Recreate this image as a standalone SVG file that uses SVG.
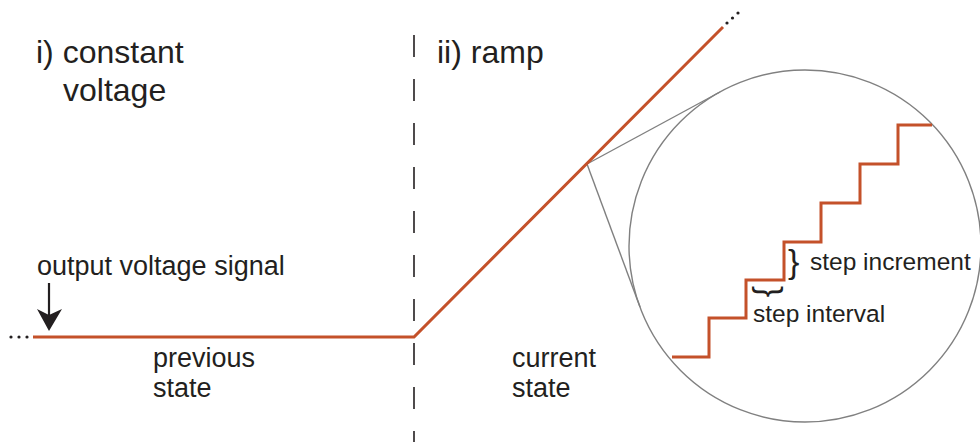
<svg xmlns="http://www.w3.org/2000/svg" width="980" height="442" viewBox="0 0 980 442">
<defs>
<style>
.sig{fill:none;stroke:#c4512a;stroke-width:3;stroke-linejoin:miter}
.zoom{fill:none;stroke:#808080;stroke-width:1.4}
.t{font-family:"Liberation Sans",Arial,sans-serif;fill:#231f20}
.title{font-size:32px}
.lbl{font-size:27px}
.sm{font-size:24.5px}
.dot{fill:#231f20}
</style>
</defs>
<rect width="980" height="442" fill="#fff"/>
<g id="divider">
<line x1="414" y1="35" x2="414" y2="442" stroke="#231f20" stroke-width="1.6" stroke-dasharray="22 22"/>
</g>
<g id="titles">
<text class="t title" x="36" y="63">i) constant</text>
<text class="t title" x="63" y="101">voltage</text>
<text class="t title" x="437" y="63">ii) ramp</text>
</g>
<g id="connectors">
<line class="zoom" x1="587" y1="164" x2="720" y2="92"/>
<line class="zoom" x1="587" y1="164" x2="640" y2="307"/>
<path d="M49 283 V316" stroke="#231f20" stroke-width="2.2" fill="none"/>
<path d="M49 331 L37 309 L49 315 L62 309 Z" fill="#231f20"/>
</g>
<g id="signal">
<polyline class="sig" points="33,337 414,337 723,27"/>
<circle class="dot" cx="11" cy="337" r="1.6"/>
<circle class="dot" cx="19" cy="337" r="1.6"/>
<circle class="dot" cx="27" cy="337" r="1.6"/>
<circle class="dot" cx="727" cy="23" r="1.6"/>
<circle class="dot" cx="732.5" cy="18" r="1.6"/>
<circle class="dot" cx="738" cy="13" r="1.6"/>
</g>
<g id="magnifier">
<circle class="zoom" cx="805" cy="246" r="176"/>
<polyline class="sig" points="672,357 709,357 709,318 746,318 746,280 784,280 784,242 821,242 821,203 860,203 860,164 898,164 898,125 932,125"/>
</g>
<g id="labels">
<text class="t lbl" x="37" y="275">output voltage signal</text>
<text class="t lbl" x="153" y="367">previous</text>
<text class="t lbl" x="153" y="397">state</text>
<text class="t lbl" x="512" y="367">current</text>
<text class="t lbl" x="512" y="397">state</text>
<text class="t" x="788" y="273" font-size="34">}</text>
<text class="t" font-size="34" transform="translate(759,286) rotate(90)">}</text>
<text class="t sm" x="810" y="270">step increment</text>
<text class="t sm" x="753" y="322">step interval</text>
</g>
</svg>
